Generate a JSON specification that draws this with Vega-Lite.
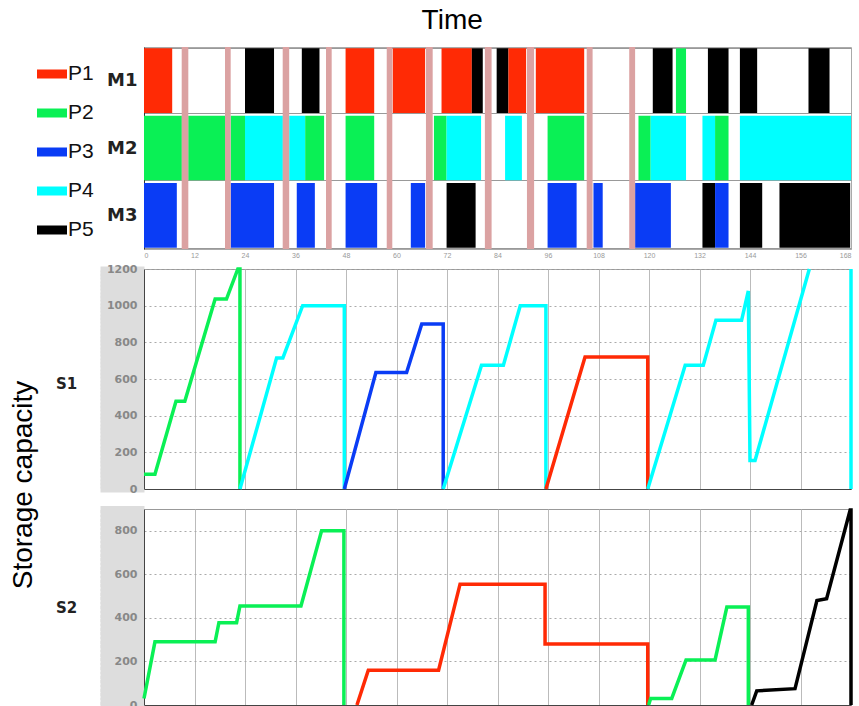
{
  "$schema": "https://vega.github.io/schema/vega-lite/v6.json",
  "padding": {"left": 9, "top": 6, "right": 0, "bottom": 0},
  "title": {"text": "Time", "fontSize": 28, "font": "Liberation Sans", "fontWeight": "normal", "color": "#000", "anchor": "middle", "offset": 3, "dx": 18},
  "spacing": 20,
  "bounds": "flush",
  "config": {"view": {"stroke": null}, "font": "Liberation Sans"},
  "resolve": {"legend": {"color": "independent"}},
  "datasets": {
    "gantt": [
      {"m": "M1", "s": 0, "e": 6.7, "p": "P1"},
      {"m": "M1", "s": 24.0, "e": 30.9, "p": "P5"},
      {"m": "M1", "s": 37.5, "e": 41.7, "p": "P5"},
      {"m": "M1", "s": 47.9, "e": 54.7, "p": "P1"},
      {"m": "M1", "s": 59.1, "e": 66.8, "p": "P1"},
      {"m": "M1", "s": 70.7, "e": 77.9, "p": "P1"},
      {"m": "M1", "s": 77.9, "e": 80.5, "p": "P5"},
      {"m": "M1", "s": 83.8, "e": 86.6, "p": "P5"},
      {"m": "M1", "s": 86.6, "e": 90.8, "p": "P1"},
      {"m": "M1", "s": 93.1, "e": 104.6, "p": "P1"},
      {"m": "M1", "s": 120.9, "e": 125.6, "p": "P5"},
      {"m": "M1", "s": 126.4, "e": 128.8, "p": "P2"},
      {"m": "M1", "s": 134.0, "e": 138.9, "p": "P5"},
      {"m": "M1", "s": 141.6, "e": 145.7, "p": "P5"},
      {"m": "M1", "s": 157.9, "e": 162.9, "p": "P5"},
      {"m": "M2", "s": 0, "e": 9.0, "p": "P2"},
      {"m": "M2", "s": 10.5, "e": 19.25, "p": "P2"},
      {"m": "M2", "s": 20.6, "e": 24.0, "p": "P2"},
      {"m": "M2", "s": 24.0, "e": 33.0, "p": "P4"},
      {"m": "M2", "s": 34.5, "e": 38.3, "p": "P4"},
      {"m": "M2", "s": 38.3, "e": 42.8, "p": "P2"},
      {"m": "M2", "s": 47.9, "e": 54.7, "p": "P2"},
      {"m": "M2", "s": 68.9, "e": 71.9, "p": "P2"},
      {"m": "M2", "s": 71.9, "e": 80.1, "p": "P4"},
      {"m": "M2", "s": 85.8, "e": 89.8, "p": "P4"},
      {"m": "M2", "s": 95.9, "e": 104.6, "p": "P2"},
      {"m": "M2", "s": 117.5, "e": 120.4, "p": "P2"},
      {"m": "M2", "s": 120.4, "e": 128.8, "p": "P4"},
      {"m": "M2", "s": 132.7, "e": 135.7, "p": "P4"},
      {"m": "M2", "s": 135.7, "e": 138.9, "p": "P2"},
      {"m": "M2", "s": 141.6, "e": 168, "p": "P4"},
      {"m": "M3", "s": 0, "e": 7.8, "p": "P3"},
      {"m": "M3", "s": 20.6, "e": 30.9, "p": "P3"},
      {"m": "M3", "s": 36.3, "e": 40.6, "p": "P3"},
      {"m": "M3", "s": 47.9, "e": 55.4, "p": "P3"},
      {"m": "M3", "s": 63.4, "e": 66.8, "p": "P3"},
      {"m": "M3", "s": 71.9, "e": 78.8, "p": "P5"},
      {"m": "M3", "s": 95.9, "e": 102.8, "p": "P3"},
      {"m": "M3", "s": 106.8, "e": 109.0, "p": "P3"},
      {"m": "M3", "s": 116.7, "e": 125.2, "p": "P3"},
      {"m": "M3", "s": 132.7, "e": 135.7, "p": "P5"},
      {"m": "M3", "s": 135.7, "e": 138.9, "p": "P3"},
      {"m": "M3", "s": 141.6, "e": 146.9, "p": "P5"},
      {"m": "M3", "s": 151.0, "e": 167.8, "p": "P5"}
    ],
    "maint": [
      {"s": 8.96, "e": 10.53}, {"s": 19.25, "e": 20.6}, {"s": 32.96, "e": 34.5},
      {"s": 43.25, "e": 44.6}, {"s": 57.68, "e": 59.0}, {"s": 67.0, "e": 68.6},
      {"s": 81.0, "e": 82.6}, {"s": 91.0, "e": 92.7}, {"s": 105.2, "e": 106.6},
      {"s": 115.3, "e": 116.7}
    ],
    "s1": [
      {"seg": "a", "p": "P2", "i": 1, "t": 0, "v": 80},
      {"seg": "a", "p": "P2", "i": 2, "t": 2.6, "v": 80},
      {"seg": "a", "p": "P2", "i": 3, "t": 7.6, "v": 478},
      {"seg": "a", "p": "P2", "i": 4, "t": 9.7, "v": 478},
      {"seg": "a", "p": "P2", "i": 5, "t": 16.9, "v": 1036},
      {"seg": "a", "p": "P2", "i": 6, "t": 19.6, "v": 1036},
      {"seg": "a", "p": "P2", "i": 7, "t": 22.3, "v": 1200},
      {"seg": "a", "p": "P2", "i": 8, "t": 22.8, "v": 1200},
      {"seg": "a", "p": "P2", "i": 9, "t": 22.8, "v": 0},
      {"seg": "b", "p": "P4", "i": 1, "t": 22.8, "v": 0},
      {"seg": "b", "p": "P4", "i": 2, "t": 31.5, "v": 715},
      {"seg": "b", "p": "P4", "i": 3, "t": 33, "v": 715},
      {"seg": "b", "p": "P4", "i": 4, "t": 37.7, "v": 1000},
      {"seg": "b", "p": "P4", "i": 5, "t": 47.6, "v": 1000},
      {"seg": "b", "p": "P4", "i": 6, "t": 47.6, "v": 0},
      {"seg": "c", "p": "P3", "i": 1, "t": 47.6, "v": 0},
      {"seg": "c", "p": "P3", "i": 2, "t": 55.1, "v": 635},
      {"seg": "c", "p": "P3", "i": 3, "t": 62.4, "v": 635},
      {"seg": "c", "p": "P3", "i": 4, "t": 66, "v": 900},
      {"seg": "c", "p": "P3", "i": 5, "t": 71.1, "v": 900},
      {"seg": "c", "p": "P3", "i": 6, "t": 71.1, "v": 0},
      {"seg": "d", "p": "P4", "i": 1, "t": 71.1, "v": 0},
      {"seg": "d", "p": "P4", "i": 2, "t": 80.2, "v": 675},
      {"seg": "d", "p": "P4", "i": 3, "t": 85.4, "v": 675},
      {"seg": "d", "p": "P4", "i": 4, "t": 89.4, "v": 1000},
      {"seg": "d", "p": "P4", "i": 5, "t": 95.5, "v": 1000},
      {"seg": "d", "p": "P4", "i": 6, "t": 95.5, "v": 0},
      {"seg": "e", "p": "P1", "i": 1, "t": 95.5, "v": 0},
      {"seg": "e", "p": "P1", "i": 2, "t": 104.8, "v": 720},
      {"seg": "e", "p": "P1", "i": 3, "t": 119.7, "v": 720},
      {"seg": "e", "p": "P1", "i": 4, "t": 119.7, "v": 0},
      {"seg": "f", "p": "P4", "i": 1, "t": 119.7, "v": 0},
      {"seg": "f", "p": "P4", "i": 2, "t": 128.6, "v": 675},
      {"seg": "f", "p": "P4", "i": 3, "t": 132.9, "v": 675},
      {"seg": "f", "p": "P4", "i": 4, "t": 135.9, "v": 920},
      {"seg": "f", "p": "P4", "i": 5, "t": 142, "v": 920},
      {"seg": "f", "p": "P4", "i": 6, "t": 143.6, "v": 1080},
      {"seg": "f", "p": "P4", "i": 7, "t": 144, "v": 155},
      {"seg": "f", "p": "P4", "i": 8, "t": 145.2, "v": 155},
      {"seg": "f", "p": "P4", "i": 9, "t": 158.1, "v": 1200},
      {"seg": "g", "p": "P4", "i": 1, "t": 168, "v": 0},
      {"seg": "g", "p": "P4", "i": 2, "t": 168, "v": 1200}
    ],
    "s2": [
      {"seg": "a", "p": "P2", "i": 1, "t": 0, "v": 30},
      {"seg": "a", "p": "P2", "i": 2, "t": 2.6, "v": 290},
      {"seg": "a", "p": "P2", "i": 3, "t": 16.9, "v": 290},
      {"seg": "a", "p": "P2", "i": 4, "t": 17.8, "v": 378},
      {"seg": "a", "p": "P2", "i": 5, "t": 22, "v": 378},
      {"seg": "a", "p": "P2", "i": 6, "t": 22.8, "v": 455},
      {"seg": "a", "p": "P2", "i": 7, "t": 37.3, "v": 455},
      {"seg": "a", "p": "P2", "i": 8, "t": 42.2, "v": 800},
      {"seg": "a", "p": "P2", "i": 9, "t": 47.5, "v": 800},
      {"seg": "a", "p": "P2", "i": 10, "t": 47.5, "v": 0},
      {"seg": "b", "p": "P1", "i": 1, "t": 50.6, "v": 0},
      {"seg": "b", "p": "P1", "i": 2, "t": 53.3, "v": 160},
      {"seg": "b", "p": "P1", "i": 3, "t": 70, "v": 160},
      {"seg": "b", "p": "P1", "i": 4, "t": 75.1, "v": 555},
      {"seg": "b", "p": "P1", "i": 5, "t": 95.3, "v": 555},
      {"seg": "b", "p": "P1", "i": 6, "t": 95.3, "v": 280},
      {"seg": "b", "p": "P1", "i": 7, "t": 119.7, "v": 280},
      {"seg": "b", "p": "P1", "i": 8, "t": 119.7, "v": 0},
      {"seg": "c", "p": "P2", "i": 1, "t": 119.9, "v": 0},
      {"seg": "c", "p": "P2", "i": 2, "t": 120.4, "v": 30},
      {"seg": "c", "p": "P2", "i": 3, "t": 125.4, "v": 30},
      {"seg": "c", "p": "P2", "i": 4, "t": 128.8, "v": 207},
      {"seg": "c", "p": "P2", "i": 5, "t": 135.7, "v": 207},
      {"seg": "c", "p": "P2", "i": 6, "t": 138.5, "v": 450},
      {"seg": "c", "p": "P2", "i": 7, "t": 143.6, "v": 450},
      {"seg": "c", "p": "P2", "i": 8, "t": 143.6, "v": 0},
      {"seg": "d", "p": "P5", "i": 1, "t": 144.4, "v": 0},
      {"seg": "d", "p": "P5", "i": 2, "t": 145.6, "v": 65},
      {"seg": "d", "p": "P5", "i": 3, "t": 154.7, "v": 75},
      {"seg": "d", "p": "P5", "i": 4, "t": 159.9, "v": 480},
      {"seg": "d", "p": "P5", "i": 5, "t": 162.2, "v": 488},
      {"seg": "d", "p": "P5", "i": 6, "t": 167.8, "v": 895},
      {"seg": "d", "p": "P5", "i": 7, "t": 168, "v": 895},
      {"seg": "d", "p": "P5", "i": 8, "t": 168, "v": 0}
    ]
  },
  "vconcat": [
    {
      "width": 707,
      "height": 202,
      "view": {"stroke": "#aaa"},
      "layer": [
        {
          "data": {"name": "gantt"},
          "mark": {"type": "bar"},
          "encoding": {
            "x": {"field": "s", "type": "quantitative", "scale": {"domain": [0, 168], "nice": false},
              "axis": {"values": [0, 12, 24, 36, 48, 60, 72, 84, 96, 108, 120, 132, 144, 156, 168], "grid": false, "ticks": false, "domainColor": "#aaa", "labelFontSize": 7, "labelColor": "#999", "labelPadding": 2, "title": null}},
            "x2": {"field": "e"},
            "y": {"field": "m", "type": "nominal", "scale": {"domain": ["M1", "M2", "M3"], "paddingInner": 0.04, "paddingOuter": 0.02},
              "axis": {"title": null, "ticks": false, "domainColor": "#333", "labelFontSize": 18, "labelFontWeight": "bold", "labelFont": "DejaVu Sans", "labelColor": "#222", "labelPadding": 7, "grid": true, "tickBand": "extent", "gridColor": "#999"}},
            "color": {"field": "p", "type": "nominal",
              "scale": {"domain": ["P1", "P2", "P3", "P4", "P5"], "range": ["#ff2a05", "#0af055", "#0a3cf5", "#00ffff", "#000000"]},
              "legend": {"title": null, "orient": "none", "legendX": -107, "legendY": 12, "symbolType": "M-1,-0.3H1V0.3H-1Z", "symbolSize": 900, "symbolStrokeWidth": 0, "labelFontSize": 21, "labelFont": "Liberation Sans", "labelColor": "#111", "rowPadding": 14, "labelOffset": 1}}
          }
        },
        {
          "data": {"name": "maint"},
          "mark": {"type": "rect", "color": "#dba2a2"},
          "encoding": {
            "x": {"field": "s", "type": "quantitative"},
            "x2": {"field": "e"}
          }
        }
      ]
    },
    {
      "width": 707,
      "height": 220,
      "view": {"stroke": "#999"},
      "title": {"text": "Storage capacity", "orient": "left", "fontSize": 28, "font": "Liberation Sans", "fontWeight": "normal", "color": "#000", "offset": 17, "dx": -106},
      "data": {"name": "s1"},
      "mark": {"type": "line", "strokeWidth": 3.5, "clip": false},
      "encoding": {
        "x": {"field": "t", "type": "quantitative", "scale": {"domain": [0, 168], "nice": false},
          "axis": {"values": [0, 12, 24, 36, 48, 60, 72, 84, 96, 108, 120, 132, 144, 156, 168], "grid": true, "gridColor": "#bbb", "labels": false, "ticks": false, "domainColor": "#444", "title": null}},
        "y": {"field": "v", "type": "quantitative", "scale": {"domain": [0, 1200], "nice": false},
          "axis": {"values": [0, 20, 40, 60, 80, 100, 120, 140, 160, 180, 200, 220, 240, 260, 280, 300, 320, 340, 360, 380, 400, 420, 440, 460, 480, 500, 520, 540, 560, 580, 600, 620, 640, 660, 680, 700, 720, 740, 760, 780, 800, 820, 840, 860, 880, 900, 920, 940, 960, 980, 1000, 1020, 1040, 1060, 1080, 1100, 1120, 1140, 1160, 1180, 1200],
            "labelExpr": "datum.value % 200 === 0 ? format(datum.value, 'd') : ''", "labelOverlap": false,
            "ticks": true, "tickSize": 44, "tickWidth": 6, "tickColor": "#dddddd",
            "domain": true, "domainColor": "#444", "labelPadding": -37, "labelFontSize": 11, "labelFontWeight": "bold", "labelFont": "DejaVu Sans", "labelColor": "#888",
            "grid": true, "gridDash": [2, 3], "gridColor": "#aaa", "gridOpacity": {"condition": {"test": "datum.value % 200 === 0", "value": 1}, "value": 0},
            "title": "S1", "titleAngle": 0, "titleX": -78, "titleY": 114, "titleAlign": "center", "titleBaseline": "middle", "titleFontSize": 15, "titleFont": "DejaVu Sans", "titleFontWeight": "bold", "titleColor": "#222"}},
        "color": {"field": "p", "type": "nominal", "scale": {"domain": ["P1", "P2", "P3", "P4", "P5"], "range": ["#ff2a05", "#0af055", "#0a3cf5", "#00ffff", "#000000"]}, "legend": null},
        "detail": {"field": "seg"},
        "order": {"field": "i", "type": "quantitative"}
      }
    },
    {
      "width": 707,
      "height": 196,
      "view": {"stroke": "#999"},
      "data": {"name": "s2"},
      "mark": {"type": "line", "strokeWidth": 3.5, "clip": false},
      "encoding": {
        "x": {"field": "t", "type": "quantitative", "scale": {"domain": [0, 168], "nice": false},
          "axis": {"values": [0, 12, 24, 36, 48, 60, 72, 84, 96, 108, 120, 132, 144, 156, 168], "grid": true, "gridColor": "#bbb", "labels": false, "ticks": false, "domainColor": "#444", "title": null}},
        "y": {"field": "v", "type": "quantitative", "scale": {"domain": [0, 900], "nice": false},
          "axis": {"values": [0, 20, 40, 60, 80, 100, 120, 140, 160, 180, 200, 220, 240, 260, 280, 300, 320, 340, 360, 380, 400, 420, 440, 460, 480, 500, 520, 540, 560, 580, 600, 620, 640, 660, 680, 700, 720, 740, 760, 780, 800, 820, 840, 860, 880, 900],
            "labelExpr": "datum.value % 200 === 0 ? format(datum.value, 'd') : ''", "labelOverlap": false,
            "ticks": true, "tickSize": 44, "tickWidth": 7, "tickColor": "#dddddd",
            "domain": true, "domainColor": "#444", "labelPadding": -37, "labelFontSize": 11, "labelFontWeight": "bold", "labelFont": "DejaVu Sans", "labelColor": "#888",
            "grid": true, "gridDash": [2, 3], "gridColor": "#aaa", "gridOpacity": {"condition": {"test": "datum.value % 200 === 0", "value": 1}, "value": 0},
            "title": "S2", "titleAngle": 0, "titleX": -78, "titleY": 98, "titleAlign": "center", "titleBaseline": "middle", "titleFontSize": 15, "titleFont": "DejaVu Sans", "titleFontWeight": "bold", "titleColor": "#222"}},
        "color": {"field": "p", "type": "nominal", "scale": {"domain": ["P1", "P2", "P3", "P4", "P5"], "range": ["#ff2a05", "#0af055", "#0a3cf5", "#00ffff", "#000000"]}, "legend": null},
        "detail": {"field": "seg"},
        "order": {"field": "i", "type": "quantitative"}
      }
    }
  ]
}
